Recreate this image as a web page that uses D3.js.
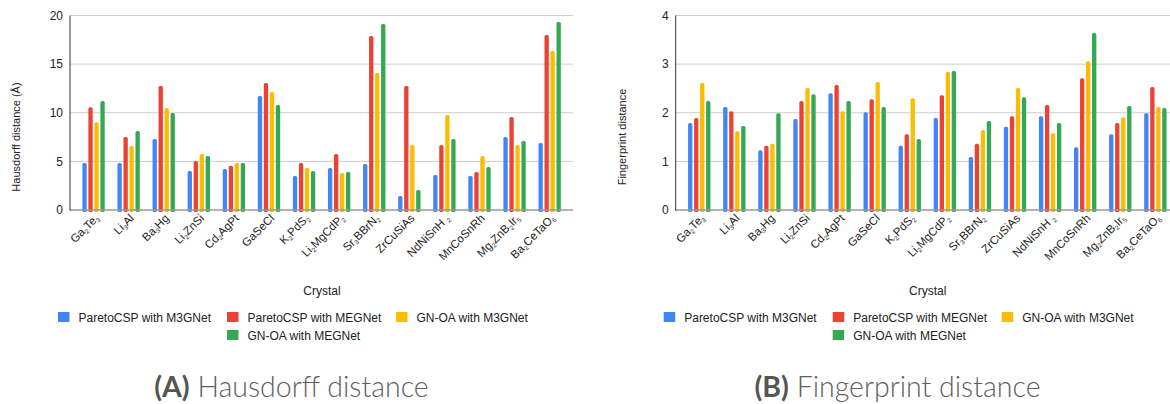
<!DOCTYPE html>
<html><head><meta charset="utf-8">
<script src="https://cdn.jsdelivr.net/npm/d3@7"></script>
<style>html,body{margin:0;padding:0;background:#fff;}svg{display:block;}</style>
</head><body><svg id="c" width="1170" height="404"></svg>
<script>
// ---- data ----
const categories = ["Ga_2Te_3","Li_3Al","Ba_3Hg","Li_2ZnSi","Cd_2AgPt","GaSeCl","K_2PdS_2","Li_2MgCdP_2","Sr_3BBrN_2","ZrCuSiAs","NdNiSnH _2","MnCoSnRh","Mg_2ZnB_2Ir_5","Ba_2CeTaO_6"];
const seriesNames = ["ParetoCSP with M3GNet","ParetoCSP with MEGNet","GN-OA with M3GNet","GN-OA with MEGNet"];
const seriesColors = ["#4285F4","#EA4335","#FBBC04","#34A853"];

const hausParetoM3G = [4.83,4.83,7.30,4.01,4.22,11.72,3.50,4.32,4.73,1.44,3.60,3.50,7.51,6.89];
const hausParetoMEG = [10.56,7.51,12.75,5.04,4.56,13.06,4.83,5.76,17.90,12.75,6.68,3.91,9.56,18.00];
const hausGnoaM3G   = [9.02,6.58,10.49,5.76,4.83,12.14,4.32,3.81,14.09,6.68,9.77,5.55,6.68,16.35];
const hausGnoaMEG   = [11.21,8.12,9.98,5.55,4.83,10.80,4.01,3.91,19.13,2.06,7.30,4.42,7.10,19.33];

const fpParetoM3G = [1.79,2.12,1.23,1.87,2.40,2.01,1.32,1.89,1.09,1.71,1.93,1.29,1.56,1.99];
const fpParetoMEG = [1.89,2.03,1.32,2.24,2.57,2.28,1.56,2.36,1.36,1.93,2.16,2.71,1.79,2.53];
const fpGnoaM3G   = [2.61,1.62,1.36,2.51,2.03,2.63,2.30,2.84,1.64,2.51,1.58,3.06,1.91,2.12];
const fpGnoaMEG   = [2.24,1.73,1.99,2.38,2.24,2.12,1.46,2.86,1.83,2.32,1.79,3.64,2.14,2.10];

const hausTicks = [0,5,10,15,20];
const fpTicks = [0,1,2,3,4];

const svg = d3.select("#c");
const FONT = "'Liberation Sans', Arial, sans-serif";

function drawChart(ox, seriesData, yMax, ticks, yTitle) {
  const g = svg.append("g").attr("transform", `translate(${ox},0)`);
  const axisX = 70, top = 15.5, bottom = 210, gridEnd = 573;
  const x0 = d3.scaleBand().domain(categories).range([76, 567.2]).padding(0);
  const x1 = d3.scaleBand().domain(seriesNames).range([0, x0.bandwidth()]).paddingInner(0.28).paddingOuter(1.06);
  const y = d3.scaleLinear().domain([0, yMax]).range([bottom, top]);

  // gridlines
  g.append("g").selectAll("line").data(ticks.filter(t => t > 0)).join("line")
    .attr("x1", axisX).attr("x2", gridEnd)
    .attr("y1", d => y(d)).attr("y2", d => y(d))
    .attr("stroke", "#cccccc").attr("stroke-width", 1);

  // y tick labels via axis
  const ya = g.append("g").attr("transform", `translate(${axisX},0)`)
    .call(d3.axisLeft(y).tickValues(ticks).tickFormat(d3.format("d")).tickSize(0).tickPadding(7));
  ya.select(".domain").remove();
  ya.attr("font-family", FONT);
  ya.selectAll("text").attr("font-family", FONT).attr("font-size", 12).attr("fill", "#222");

  // bars
  const grp = g.append("g").selectAll("g").data(categories).join("g")
    .attr("transform", d => `translate(${x0(d)},0)`);
  grp.selectAll("rect").data((d, i) => seriesNames.map((s, k) => ({s, k, v: seriesData[k][i]}))).join("rect")
    .attr("x", d => x1(d.s)).attr("width", x1.bandwidth())
    .attr("y", d => y(d.v)).attr("height", d => y(0) - y(d.v) + 2)
    .attr("rx", 1.6)
    .attr("fill", d => seriesColors[d.k]);

  // axis lines
  g.append("line").attr("x1", axisX).attr("x2", gridEnd).attr("y1", bottom).attr("y2", bottom)
    .attr("stroke", "#999").attr("stroke-width", 1.6);
  g.append("line").attr("x1", axisX).attr("x2", axisX).attr("y1", top).attr("y2", bottom + 0.8)
    .attr("stroke", "#333").attr("stroke-width", 1);

  // x labels
  categories.forEach(c => {
    const cx = x0(c) + x0.bandwidth() / 2 + 6;
    const t = g.append("text").attr("font-family", FONT).attr("font-size", 11.5).attr("fill", "#222")
      .attr("text-anchor", "end")
      .attr("transform", `translate(${cx},219) rotate(-45)`);
    const parts = c.split(/(_\d+)/).filter(p => p.length);
    let sub = false;
    parts.forEach(p => {
      if (p.startsWith("_")) {
        t.append("tspan").attr("font-size", 6.5).attr("dy", sub ? 0 : 2).text(p.slice(1));
        sub = true;
      } else {
        t.append("tspan").attr("dy", sub ? -2 : 0).text(p);
        sub = false;
      }
    });
  });

  // axis titles
  g.append("text").attr("font-family", FONT).attr("font-size", 11).attr("fill", "#222")
    .attr("text-anchor", "middle").attr("transform", `translate(20,137) rotate(-90)`).text(yTitle);
  g.append("text").attr("font-family", FONT).attr("font-size", 12).attr("fill", "#222")
    .attr("text-anchor", "middle").attr("x", 322).attr("y", 295).text("Crystal");

  // legend
  const legendPos = [[58, 312], [227, 312], [396, 312], [227, 330]];
  seriesNames.forEach((s, k) => {
    const [lx, ly] = legendPos[k];
    g.append("rect").attr("x", lx).attr("y", ly).attr("width", 11.5).attr("height", 10).attr("fill", seriesColors[k]);
    g.append("text").attr("font-family", FONT).attr("font-size", 12).attr("fill", "#222")
      .attr("x", lx + 20.5).attr("y", ly + 9.5).text(s);
  });
}

drawChart(0, [hausParetoM3G, hausParetoMEG, hausGnoaM3G, hausGnoaMEG], 20, hausTicks, "Hausdorff distance (Å)");
drawChart(605.7, [fpParetoM3G, fpParetoMEG, fpGnoaM3G, fpGnoaMEG], 4, fpTicks, "Fingerprint distance");

// captions
function caption(cx, letter, label) {
  const t = svg.append("text").attr("font-family", "Lato, 'Open Sans', sans-serif").attr("font-size", 28.5)
    .attr("fill", "#555").attr("text-anchor", "middle").attr("x", cx).attr("y", 397);
  t.append("tspan").attr("font-weight", "bold").text(letter);
  t.append("tspan").attr("font-weight", 300).attr("fill", "#606060").text(" " + label);
}
caption(291.5, "(A)", "Hausdorff distance");
caption(897.5, "(B)", "Fingerprint distance");
</script></body></html>
